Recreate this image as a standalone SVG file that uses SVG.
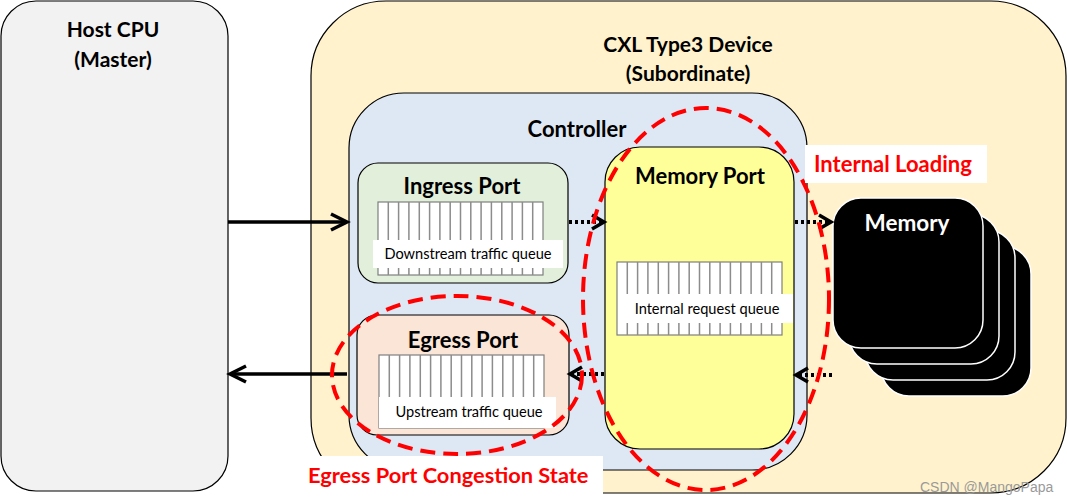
<svg xmlns="http://www.w3.org/2000/svg" width="1067" height="504" viewBox="0 0 1067 504">
<style>
.box{stroke:#000;stroke-width:1.2}
.title{font-family:Lato,"Open Sans",sans-serif;font-weight:bold;font-size:22px;fill:#000;text-anchor:middle}
.qtext{font-family:Lato,"Open Sans",sans-serif;font-size:14.6px;fill:#000;text-anchor:middle}
.queue{fill:#fff;stroke:#7f7f7f;stroke-width:1.2}
.qlines{stroke:#8c8c8c;stroke-width:1.5;fill:none}
.red{font-family:Lato,"Open Sans",sans-serif;font-weight:bold;font-size:22px;fill:#ff0000}
.solid{stroke:#000;stroke-width:3.5;fill:none}
.dotted{stroke:#000;stroke-width:4;stroke-dasharray:3 3;fill:none}
.ell{fill:none;stroke:#ff0000;stroke-width:4;stroke-dasharray:15 8}
.mem{fill:#000;stroke:#fff;stroke-width:1.5}
</style>
<defs>
<marker id="headS" markerUnits="userSpaceOnUse" markerWidth="22" markerHeight="22" refX="18" refY="11" orient="auto" overflow="visible">
<path d="M2,3 L18,11 L2,19" fill="none" stroke="#000" stroke-width="3.5" stroke-linejoin="miter"/>
</marker>
<marker id="headD" markerUnits="userSpaceOnUse" markerWidth="20" markerHeight="20" refX="15" refY="10" orient="auto" overflow="visible">
<path d="M3,3 L15,10 L3,17" fill="none" stroke="#000" stroke-width="3.5"/>
</marker>
</defs>

<g id="host-cpu">
<rect class="box" x="1" y="1" width="227" height="490" rx="35" fill="#f2f2f2"/>
<text class="title" x="113" y="37" style="font-size:21px">Host CPU</text>
<text class="title" x="113" y="67" style="font-size:21px">(Master)</text>
</g>

<g id="cxl-device">
<rect class="box" x="311" y="1" width="755" height="492" rx="75" fill="#fff2cc"/>
<text class="title" x="688" y="52" style="font-size:21px">CXL Type3 Device</text>
<text class="title" x="688" y="81" style="font-size:21px">(Subordinate)</text>
</g>

<g id="controller">
<rect class="box" x="349" y="93" width="458" height="377" rx="55" fill="#dee8f4"/>
<text class="title" x="577" y="137">Controller</text>
</g>

<g id="ingress-port">
<rect class="box" x="358" y="163" width="210" height="120" rx="20" fill="#e2efda"/>
<text class="title" x="462" y="194">Ingress Port</text>
<rect class="queue" x="378" y="202" width="165" height="73"/>
<path class="qlines" d="M388.3,202v73M398.6,202v73M408.9,202v73M419.3,202v73M429.6,202v73M439.9,202v73M450.2,202v73M460.5,202v73M470.8,202v73M481.1,202v73M491.4,202v73M501.8,202v73M512.1,202v73M522.4,202v73M532.7,202v73"/>
<rect x="373" y="240" width="190" height="28" fill="#fff"/>
<text class="qtext" x="468" y="259">Downstream traffic queue</text>
</g>

<g id="egress-port">
<rect class="box" x="357" y="315" width="212" height="120" rx="20" fill="#fbe5d6"/>
<text class="title" x="463" y="348">Egress Port</text>
<rect class="queue" x="379" y="355" width="165" height="73"/>
<path class="qlines" d="M389.3,355v73M399.6,355v73M409.9,355v73M420.3,355v73M430.6,355v73M440.9,355v73M451.2,355v73M461.5,355v73M471.8,355v73M482.1,355v73M492.4,355v73M502.8,355v73M513.1,355v73M523.4,355v73M533.7,355v73"/>
<rect x="379" y="397" width="177" height="31" fill="#fff"/>
<text class="qtext" x="469" y="417">Upstream traffic queue</text>
</g>

<g id="memory-port">
<rect class="box" x="605" y="147" width="189" height="302" rx="35" fill="#ffff99"/>
<text class="title" x="700" y="184">Memory Port</text>
<rect class="queue" x="617" y="262" width="165" height="73"/>
<path class="qlines" d="M627.3,262v73M637.6,262v73M647.9,262v73M658.3,262v73M668.6,262v73M678.9,262v73M689.2,262v73M699.5,262v73M709.8,262v73M720.1,262v73M730.4,262v73M740.8,262v73M751.1,262v73M761.4,262v73M771.7,262v73"/>
<rect x="625" y="294" width="168" height="29" fill="#fff"/>
<text class="qtext" x="707" y="314">Internal request queue</text>
</g>

<g id="memory">
<rect class="mem" x="881" y="246" width="150" height="150" rx="28"/>
<rect class="mem" x="865" y="230" width="150" height="150" rx="28"/>
<rect class="mem" x="849" y="214" width="150" height="150" rx="28"/>
<rect class="mem" x="833" y="198" width="150" height="150" rx="28"/>
<text class="title" x="907" y="231" style="fill:#fff;font-size:22.5px">Memory</text>
</g>

<g id="connectors">
<line class="solid" x1="228" y1="222" x2="347" y2="222" marker-end="url(#headS)"/>
<line class="solid" x1="347" y1="374" x2="230" y2="374" marker-end="url(#headS)"/>
<line class="dotted" x1="569" y1="222" x2="604" y2="222" marker-end="url(#headD)"/>
<line class="dotted" x1="795" y1="222" x2="831" y2="222" marker-end="url(#headD)"/>
<line class="dotted" x1="832" y1="375" x2="796" y2="375" marker-end="url(#headD)"/>
<line class="dotted" x1="604" y1="374" x2="570" y2="374" marker-end="url(#headD)"/>
</g>

<g id="internal-loading">
<ellipse class="ell" cx="706" cy="299" rx="123" ry="191"/>
<rect x="805" y="145" width="182" height="38" fill="#fff"/>
<text class="red" x="814" y="172">Internal Loading</text>
</g>

<g id="egress-congestion">
<ellipse class="ell" cx="457" cy="375" rx="125" ry="79"/>
<rect x="298" y="456" width="305" height="38" fill="#fff"/>
<text class="red" x="308" y="483" style="font-size:21.8px">Egress Port Congestion State</text>
</g>

<text x="920" y="492" font-family="Liberation Sans, Arial, sans-serif" font-size="14" fill="#9a9a9a">CSDN @MangoPapa</text>
</svg>
